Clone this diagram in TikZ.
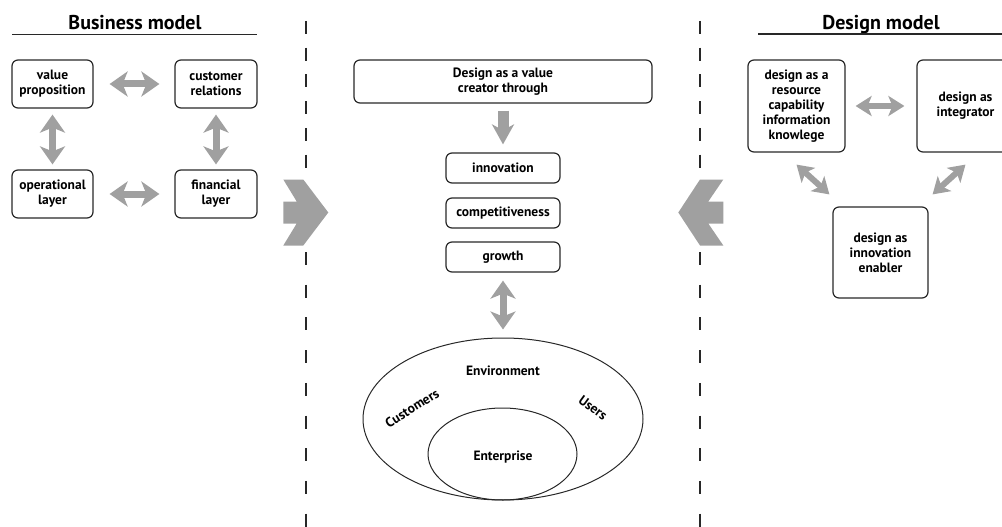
\documentclass[tikz,border=0pt]{standalone}
\usepackage{fontspec}
\setmainfont{PT Sans}
\usetikzlibrary{arrows.meta,calc,shapes.geometric}
\definecolor{arrowgray}{RGB}{160,160,160}
\definecolor{linegray}{RGB}{40,40,40}
\tikzstyle{box} = [draw=linegray, line width=1.2pt, rounded corners=6pt, align=center, inner sep=0pt, font=\bfseries\fontsize{13.5}{15}\selectfont]
\tikzstyle{txt} = [font=\bfseries\fontsize{13.5}{15}\selectfont, inner sep=0pt]
\tikzstyle{title} = [font=\bfseries\fontsize{20}{23}\selectfont, anchor=base, inner sep=0pt]
\tikzstyle{ring} = [draw=linegray, line width=1pt, ellipse, inner sep=0pt]
\tikzstyle{dbl} = [draw=arrowgray, line width=7pt, {Stealth[width=25pt,length=18pt,inset=5pt]}-{Stealth[width=25pt,length=18pt,inset=5pt]}]
\tikzstyle{dbls} = [draw=arrowgray, line width=6pt, {Stealth[width=20pt,length=16pt,inset=4pt]}-{Stealth[width=20pt,length=16pt,inset=4pt]}]
\tikzstyle{down} = [draw=arrowgray, line width=11pt, -{Stealth[width=22pt,length=20pt,inset=6pt]}]
\tikzstyle{divider} = [draw=linegray, line width=1.6pt]
\tikzstyle{rule} = [draw=linegray, line width=1.1pt]

\begin{document}
\begin{tikzpicture}[x=1pt, y=-1pt]
\useasboundingbox (0,0) rectangle (1002,527);

\node[title] (bm) at (135,30) {Business model};
\draw[rule] (12,34.5) -- (257,34.5);
\node[title] (dm) at (881,30) {Design model};
\draw[rule] (758,34) -- (1002,34);

\draw[divider, dash pattern=on 13pt off 13.7pt] (306,21) -- (306,170);
\draw[divider, dash pattern=on 13pt off 19.7pt] (306,252) -- (306,527);
\draw[divider, dash pattern=on 13pt off 13.7pt] (700,21) -- (700,170);
\draw[divider, dash pattern=on 13pt off 19.7pt] (700,252) -- (700,527);

\node[box, minimum width=81pt, minimum height=48pt] (vp) at (52.5,84) {value\\proposition};
\node[box, minimum width=82pt, minimum height=48pt] (cr) at (216,84) {customer\\relations};
\node[box, minimum width=81pt, minimum height=48pt] (op) at (52.5,194) {operational\\layer};
\node[box, minimum width=82pt, minimum height=48pt] (fl) at (216,194) {financial\\layer};
\draw[dbl, shorten <=16pt, shorten >=15pt] (vp) -- (cr);
\draw[dbl, shorten <=16pt, shorten >=15pt] (op) -- (fl);
\draw[dbl, shorten <=6pt, shorten >=5pt] (vp) -- (op);
\draw[dbl, shorten <=6pt, shorten >=5pt] (cr) -- (fl);

\fill[arrowgray] (283.3,179.5) -- (303.3,179.5) -- (328.3,212.5) -- (303.3,245.5) -- (283.3,245.5)
  -- (296.7,223.5) -- (283.3,223.5) -- (283.3,201.5) -- (296.7,201.5) -- cycle;
\fill[arrowgray] (723.3,179.5) -- (700,179.5) -- (678.3,212.5) -- (700,245.5) -- (723.3,245.5)
  -- (708.3,223.5) -- (723.3,223.5) -- (723.3,201.5) -- (708.3,201.5) -- cycle;

\node[box, minimum width=298pt, minimum height=43pt] (dv) at (503,81.5) {Design as a value\\creator through};
\node[box, minimum width=114pt, minimum height=30pt] (inn) at (503,168) {innovation};
\node[box, minimum width=114pt, minimum height=30pt] (cmp) at (503,213) {competitiveness};
\node[box, minimum width=114pt, minimum height=30pt] (gr) at (503,257) {growth};
\draw[down, shorten <=7pt, shorten >=8pt] (dv) -- (inn);
\node[ring, minimum width=280pt, minimum height=162pt] (env) at (503,419) {};
\node[ring, minimum width=149pt, minimum height=92pt] (ent) at (502.5,454) {};
\draw[dbl, shorten <=8pt, shorten >=8pt] (gr) -- (env);
\node[txt] (envl) at (503,371) {Environment};
\node[txt, rotate=32] (cul) at (412,408) {Customers};
\node[txt, rotate=-36] (usl) at (593,408) {Users};
\node[txt] (entl) at (503,457) {Enterprise};

\node[box, minimum width=97pt, minimum height=92pt] (rc) at (796.5,106) {design as a\\resource\\capability\\information\\knowlege};
\node[box, minimum width=97pt, minimum height=92pt] (ig) at (965.5,106) {design as\\integrator};
\node[box, minimum width=95pt, minimum height=91pt] (ie) at (880.5,252.5) {design as\\innovation\\enabler};
\draw[dbls, shorten <=10pt, shorten >=12pt] (rc) -- (ig);
\draw[dbls] ($(rc.south)+(0,12)$) -- ($(ie.north west)+(-3,-12)$);
\draw[dbls] ($(ig.south)+(0,12)$) -- ($(ie.north east)+(4,-12)$);
\end{tikzpicture}
\end{document}
